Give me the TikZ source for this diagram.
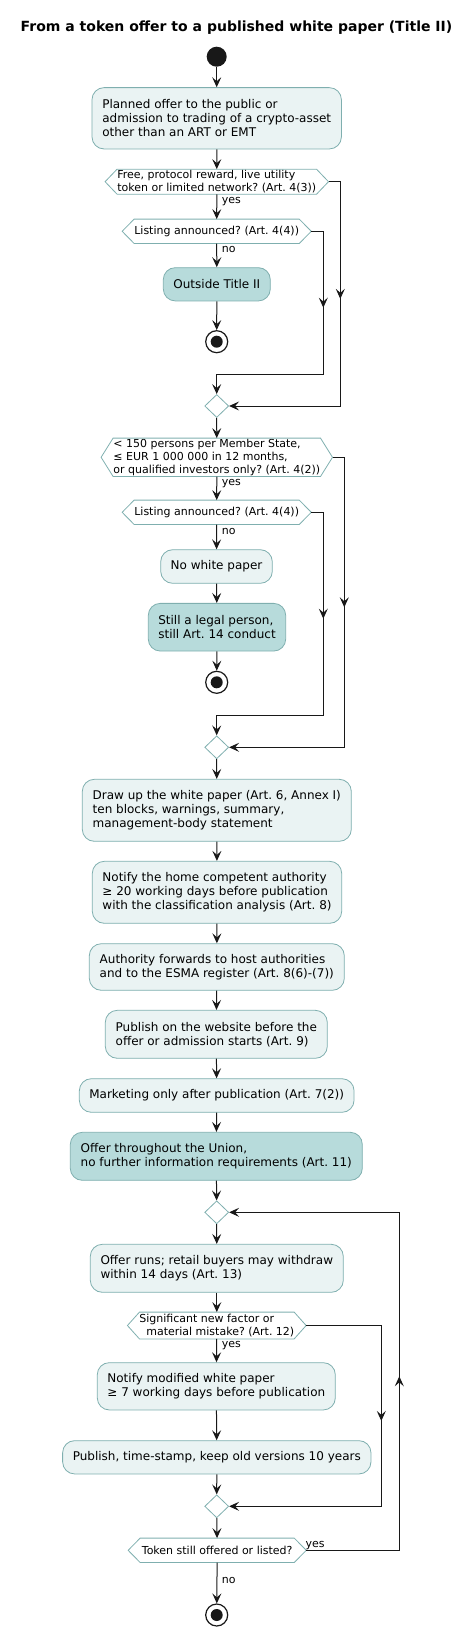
\documentclass[tikz,border=0pt]{standalone}
\usepackage{fontspec}
\setmainfont{DejaVu Sans}
\usetikzlibrary{arrows.meta,shapes.geometric,decorations.markings}
\definecolor{bord}{HTML}{7FAFAF}
\definecolor{lightfill}{HTML}{EAF3F3}
\definecolor{darkfill}{HTML}{B7DBDB}
\definecolor{ink}{HTML}{181818}
\newcommand\drawhex[1]{\draw[draw=bord, line width=0.8bp] (#1.west) -- ([xshift=12bp]#1.north west) -- ([xshift=-12bp]#1.north east) -- (#1.east) -- ([xshift=-12bp]#1.south east) -- ([xshift=12bp]#1.south west) -- cycle;}
\tikzset{
  act/.style={draw=bord, line width=0.8bp, fill=lightfill, rounded corners=12bp, inner sep=0pt, align=left, font=\fontsize{12bp}{14bp}\selectfont, text=black},
  actdark/.style={act, fill=darkfill},
  hexn/.style={inner sep=0pt, align=left, font=\fontsize{11bp}{13.3bp}\selectfont},
  merge/.style={diamond, draw=bord, line width=0.8bp, fill=white, minimum width=24bp, minimum height=23bp, inner sep=0pt},
  lab/.style={inner sep=0pt, anchor=west, font=\fontsize{11bp}{13bp}\selectfont},
  arr/.style={draw=ink, line width=1bp, -{Stealth[length=10bp,width=9bp,inset=4bp]}},
  midarr/.style={draw=ink, line width=1bp, postaction={decorate}, decoration={markings, mark=at position 0.5 with {\arrow[xshift=5bp]{Stealth[length=10bp,width=9bp,inset=4bp]}}}},
  startn/.style={circle, fill=ink, minimum size=20bp, inner sep=0pt},
  endn/.style={circle, draw=ink, line width=1.2bp, fill=white, minimum size=22bp, inner sep=0pt, path picture={\fill[ink] (path picture bounding box.center) circle (6bp);}}
}
\frenchspacing
\begin{document}
\begin{tikzpicture}[x=1bp,y=-1bp]
\useasboundingbox (0,0) rectangle (475,1636);
\node[font=\bfseries\fontsize{14bp}{16bp}\selectfont] (title) at (236.5,28) {From a token offer to a published white paper (Title II)};
\node[startn] (start) at (216.7,56.7) {};
\node[act, minimum width=249.4bp, minimum height=61.3bp] (b1) at (216.7,118.3) {Planned offer to the public or\\admission to trading of a crypto-asset\\other than an ART or EMT};
\node[hexn, minimum width=223bp, minimum height=24.7bp] (d1) at (216.8,181.7) {Free, protocol reward, live utility\\token or limited network? (Art. 4(3))};
\drawhex{d1}
\node[lab] (y1) at (221.7,201.7) {yes};
\node[hexn, minimum width=188.7bp, minimum height=24bp] (d2) at (216.7,231.3) {Listing announced? (Art. 4(4))};
\drawhex{d2}
\node[lab] (n1) at (221.7,249.3) {no};
\node[actdark, minimum width=107bp, minimum height=33.3bp] (out) at (216.8,284.3) {Outside Title II};
\node[endn] (e1) at (216.7,341.7) {};
\node[merge] (m1) at (216.7,406) {};
\coordinate (c1a) at (340.3,181.7); \coordinate (c1b) at (340.3,406);
\coordinate (c2a) at (323.3,231.3); \coordinate (c2b) at (323.3,374); \coordinate (c2c) at (216.7,374);
\draw[arr] (start) -- (b1);
\draw[arr] (b1) -- (d1);
\draw[arr] (d1) -- (d2);
\draw[arr] (d2) -- (out);
\draw[arr] (out) -- (e1);
\draw[arr] (d1.east) -- (c1a) -- (c1b) -- (m1.east);
\draw[midarr] (c1a) -- (c1b);
\draw[arr] (d2.east) -- (c2a) -- (c2b) -- (c2c) -- (m1.north);
\draw[midarr] (c2a) -- (c2b);
% section 2
\node[hexn, minimum width=231bp, minimum height=38bp] (d3) at (216.8,457.3) {< 150 persons per Member State,\\≤ EUR 1 000 000 in 12 months,\\or qualified investors only? (Art. 4(2))};
\drawhex{d3}
\node[lab] (y2) at (221.7,483.3) {yes};
\node[hexn, minimum width=188.7bp, minimum height=24bp] (d4) at (216.7,512.3) {Listing announced? (Art. 4(4))};
\drawhex{d4}
\node[lab] (n2) at (221.7,531.7) {no};
\node[act, minimum width=111.6bp, minimum height=33.6bp] (nowp) at (216.5,566.5) {No white paper};
\node[actdark, minimum width=137.4bp, minimum height=47.7bp] (legal) at (217,627.2) {Still a legal person,\\still Art. 14 conduct};
\node[endn] (e2) at (216.7,682.3) {};
\node[merge] (m2) at (216.7,747.3) {};
\coordinate (c3a) at (344.3,457.3); \coordinate (c3b) at (344.3,747.3);
\coordinate (c4a) at (323.3,512.3); \coordinate (c4b) at (323.3,715); \coordinate (c4c) at (216.7,715);
\draw[arr] (m1) -- (d3);
\draw[arr] (d3) -- (d4);
\draw[arr] (d4) -- (nowp);
\draw[arr] (nowp) -- (legal);
\draw[arr] (legal) -- (e2);
\draw[arr] (d3.east) -- (c3a) -- (c3b) -- (m2.east);
\draw[midarr] (c3a) -- (c3b);
\draw[arr] (d4.east) -- (c4a) -- (c4b) -- (c4c) -- (m2.north);
\draw[midarr] (c4a) -- (c4b);
% section 3
\node[act, minimum width=269bp, minimum height=62bp] (draw) at (216.8,810.3) {Draw up the white paper (Art. 6, Annex I)\\ten blocks, warnings, summary,\\management-body statement};
\node[act, minimum width=249.4bp, minimum height=62bp] (notify) at (217,892.3) {Notify the home competent authority\\≥ 20 working days before publication\\with the classification analysis (Art. 8)};
\node[act, minimum width=255bp, minimum height=46.6bp] (auth) at (216.8,967) {Authority forwards to host authorities\\and to the ESMA register (Art. 8(6)-(7))};
\node[act, minimum width=222bp, minimum height=48bp] (pubweb) at (216.3,1034.3) {Publish on the website before the\\offer or admission starts (Art. 9)};
\node[act, minimum width=274.7bp, minimum height=33.6bp] (market) at (216.7,1095.5) {Marketing only after publication (Art. 7(2))};
\node[actdark, minimum width=292bp, minimum height=48bp] (union) at (216.3,1156.3) {Offer throughout the Union,\\no further information requirements (Art. 11)};
\node[merge] (m3) at (216.7,1212.3) {};
\node[act, minimum width=253bp, minimum height=48bp] (runs) at (216.8,1268.3) {Offer runs; retail buyers may withdraw\\within 14 days (Art. 13)};
\node[hexn, minimum width=178.3bp, minimum height=26.4bp] (d5) at (216.8,1325.5) {Significant new factor or\\\hspace*{7bp}material mistake? (Art. 12)};
\drawhex{d5}
\node[lab] (y3) at (221.7,1345.3) {yes};
\node[act, minimum width=238bp, minimum height=47.3bp] (notmod) at (216.3,1386.3) {Notify modified white paper\\≥ 7 working days before publication};
\node[act, minimum width=308.3bp, minimum height=33.3bp] (pubts) at (216.8,1457.3) {Publish, time-stamp, keep old versions 10 years};
\node[merge] (m4) at (216.7,1506.3) {};
\node[hexn, minimum width=177.7bp, minimum height=24bp] (d6) at (217.2,1550.3) {Token still offered or listed?};
\drawhex{d6}
\node[lab, anchor=south west] (y4) at (305.5,1549.5) {yes};
\node[lab] (n3) at (221.7,1580.3) {no};
\node[endn] (e3) at (216.7,1615) {};
\coordinate (c5a) at (381.3,1325.5); \coordinate (c5b) at (381.3,1506.3);
\coordinate (c6a) at (399.3,1550.3); \coordinate (c6b) at (399.3,1212.3);
\draw[arr] (m2) -- (draw);
\draw[arr] (draw) -- (notify);
\draw[arr] (notify) -- (auth);
\draw[arr] (auth) -- (pubweb);
\draw[arr] (pubweb) -- (market);
\draw[arr] (market) -- (union);
\draw[arr] (union) -- (m3);
\draw[arr] (m3) -- (runs);
\draw[arr] (runs) -- (d5);
\draw[arr] (d5) -- (notmod);
\draw[arr] (notmod) -- (pubts);
\draw[arr] (pubts) -- (m4);
\draw[arr] (m4) -- (d6);
\draw[arr] (d6) -- (e3);
\draw[arr] (d5.east) -- (c5a) -- (c5b) -- (m4.east);
\draw[midarr] (c5a) -- (c5b);
\draw[arr] (d6.east) -- (c6a) -- (c6b) -- (m3.east);
\draw[midarr] (c6a) -- (c6b);
\end{tikzpicture}
\end{document}
